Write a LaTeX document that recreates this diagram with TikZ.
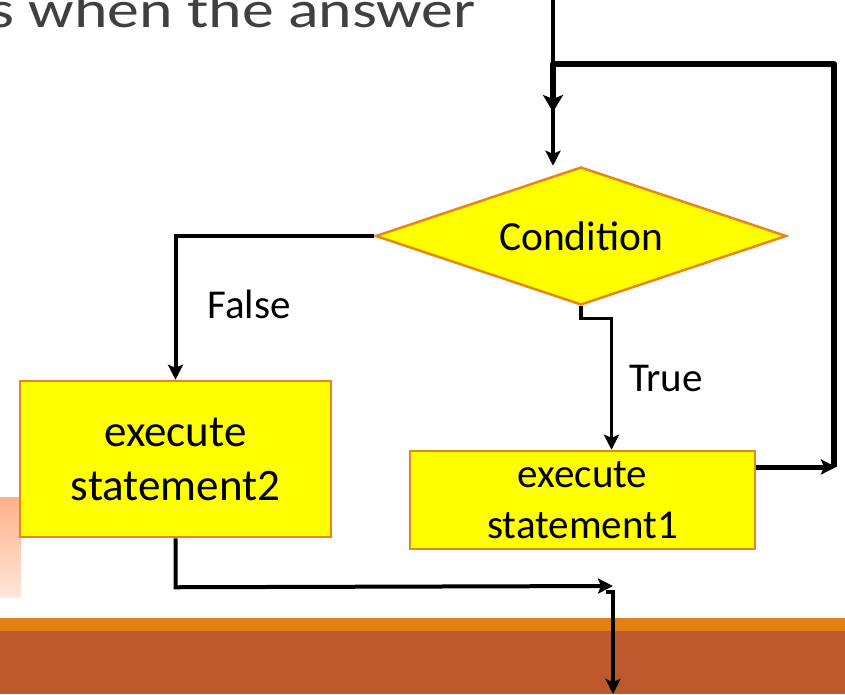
\documentclass[tikz,border=0pt]{standalone}
\usepackage{fontspec}
\setmainfont{Carlito}
\usepackage{graphicx}
\usetikzlibrary{arrows.meta,shapes.geometric}
\definecolor{boxorange}{RGB}{232,134,26}
\definecolor{bandorange}{RGB}{227,128,20}
\definecolor{bandbrown}{RGB}{189,89,45}
\definecolor{peachtop}{RGB}{255,178,138}
\definecolor{peachbot}{RGB}{255,230,218}
\definecolor{titlegray}{RGB}{64,64,64}
\definecolor{pureyellow}{RGB}{255,255,0}
\begin{document}
\begin{tikzpicture}[x=1pt,y=-1pt,
  box/.style={draw=boxorange,line width=2.5pt,fill=pureyellow,inner sep=0pt,align=center},
  conn/.style={draw=black,line width=#1,-{Stealth[length=15pt,width=15pt,inset=3pt]}},
  conn/.default=4pt,
  bigconn/.style={draw=black,line width=#1,-{Stealth[length=17pt,width=20pt,inset=4pt]}},
  lbl/.style={font=\fontsize{41}{49}\selectfont,inner sep=0pt}
]
\useasboundingbox (0,0) rectangle (845,694);
\clip (0,0) rectangle (845,694);
% background decorations
\fill[bandorange] (0,618) rectangle (845,631);
\fill[bandbrown] (0,631) rectangle (845,694);
\shade[top color=peachtop,bottom color=peachbot] (0,497) rectangle (21,597);
\node[anchor=base east,inner sep=0pt,text=titlegray,font=\fontsize{52}{60}\selectfont] (title) at (476,27) {\scalebox{1.225}[1]{s when the answer}};
% nodes
\node[box,diamond,aspect=2.98,minimum width=411pt,minimum height=138pt,font=\fontsize{41.5}{49}\selectfont] (cond) at (581,236) {Condition};
\node[box,minimum width=311pt,minimum height=156pt,font=\fontsize{45}{55}\selectfont] (s2) at (175.5,459) {execute\\[-1pt]statement2};
\node[box,minimum width=345pt,minimum height=98pt,font=\fontsize{41}{50}\selectfont] (s1) at (582.5,500) {execute\\[1pt]statement1};
\node[lbl] (false) at (249,304) {False};
\node[lbl] (true) at (666,378) {True};
% coordinates
\coordinate (topin) at (553,0);
\coordinate (loopc) at (836,467);
\coordinate (loopin) at (553,112);
\coordinate (join) at (613,586);
\coordinate (jog) at (606,592);
\coordinate (out) at (613,694);
% connectors
\draw[conn=4.5pt] (topin) -- (topin |- cond.north);
\draw[conn=5pt] ([yshift=33pt]s1.east) -- (loopc);
\draw[bigconn=6pt,line join=round] (834,467) -- (834,64) -- (553,64) -- (loopin);
\draw[conn=4pt] (cond.west) -| (s2.north);
\draw[conn=3.5pt] (cond.south) -- ++(0,12) -| ([xshift=29pt]s1.north);
\draw[conn=4pt] (s2.south) -- ++(0,49) -- (join);
\draw[conn=3.5pt] (jog) -- (613,592) -- (out);
\end{tikzpicture}
\end{document}
